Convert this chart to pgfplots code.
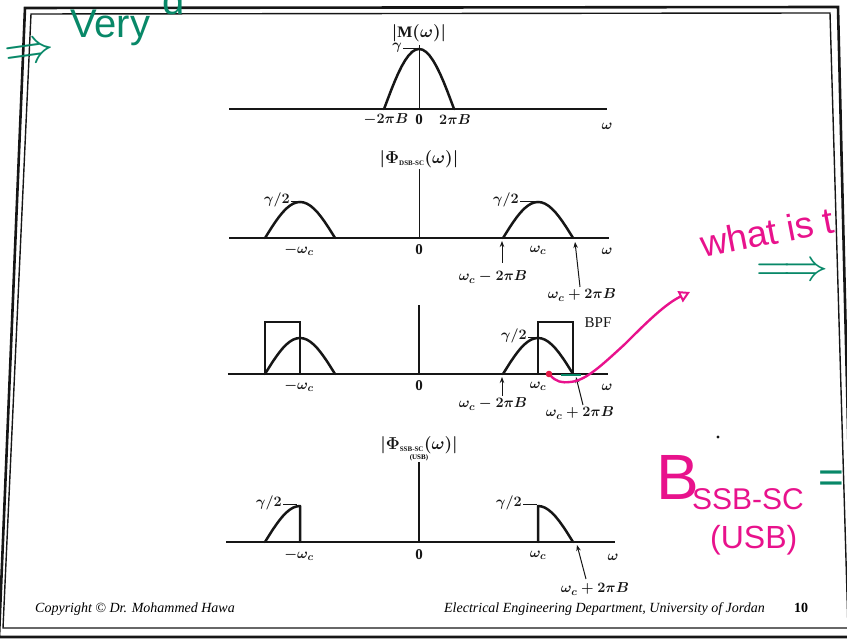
\documentclass[border=0pt]{standalone}
\usepackage{fontspec}
\setmainfont{Liberation Serif}
\newfontfamily\handfont{Liberation Sans}
\usepackage{pgfplots}
\usepackage{pgfplotstable}
\pgfplotsset{compat=1.18}
\usetikzlibrary{arrows.meta}

\definecolor{ink}{RGB}{22,22,22}
\definecolor{pen}{RGB}{232,18,140}
\definecolor{penred}{RGB}{228,26,70}
\definecolor{marker}{RGB}{8,136,104}

% |M(w)|: peak gamma = 1, band edges at -2piB and 2piB (= -1, 1)
\pgfplotstableread{
x y
-1.0 0
-0.9 0.156
-0.8 0.309
-0.7 0.454
-0.6 0.588
-0.5 0.707
-0.4 0.809
-0.3 0.891
-0.2 0.951
-0.1 0.988
0.0 1
0.1 0.988
0.2 0.951
0.3 0.891
0.4 0.809
0.5 0.707
0.6 0.588
0.7 0.454
0.8 0.309
0.9 0.156
1.0 0
}\msgspec

% DSB-SC: two copies of height gamma/2 centred on -wc and wc (wc = 3.4)
\pgfplotstableread{
x y
-4.4 0
-4.3 0.078
-4.2 0.155
-4.1 0.227
-4.0 0.294
-3.9 0.354
-3.8 0.405
-3.7 0.446
-3.6 0.476
-3.5 0.494
-3.4 0.5
-3.3 0.494
-3.2 0.476
-3.1 0.446
-3.0 0.405
-2.9 0.354
-2.8 0.294
-2.7 0.227
-2.6 0.155
-2.5 0.078
-2.4 0
}\dsbneg

\pgfplotstableread{
x y
2.4 0
2.5 0.078
2.6 0.155
2.7 0.227
2.8 0.294
2.9 0.354
3.0 0.405
3.1 0.446
3.2 0.476
3.3 0.494
3.4 0.5
3.5 0.494
3.6 0.476
3.7 0.446
3.8 0.405
3.9 0.354
4.0 0.294
4.1 0.227
4.2 0.155
4.3 0.078
4.4 0
}\dsbpos

% SSB-SC (USB): only the outer halves survive
\pgfplotstableread{
x y
-4.4 0
-4.3 0.078
-4.2 0.155
-4.1 0.227
-4.0 0.294
-3.9 0.354
-3.8 0.405
-3.7 0.446
-3.6 0.476
-3.5 0.494
-3.4 0.5
-3.4 0
}\usbneg

\pgfplotstableread{
x y
3.4 0
3.4 0.5
3.5 0.494
3.6 0.476
3.7 0.446
3.8 0.405
3.9 0.354
4.0 0.294
4.1 0.227
4.2 0.155
4.3 0.078
4.4 0
}\usbpos

% band-pass filter passbands
\pgfplotstableread{
x y
-4.4 0
-4.4 0.72
-3.4 0.72
-3.4 0
}\bpfneg

\pgfplotstableread{
x y
3.4 0
3.4 0.72
4.4 0.72
4.4 0
}\bpfpos

\pgfplotsset{
  spectrum/.style={
    anchor=south west, scale only axis, x=35pt, ymin=0,
    axis lines=middle,
    axis line style={-, line width=1.1pt, ink},
    every inner x axis line/.append style={-},
    every inner y axis line/.append style={-},
    ticks=none, clip=false,
  },
  curve/.style={ink, line width=2.5pt, line join=round, line cap=round, no marks},
  filt/.style={ink, line width=1.6pt, line join=miter, no marks},
}

\tikzset{
  lab/.style={inner sep=0pt, font=\fontsize{15}{15}\selectfont\bfseries\boldmath, text=ink},
  big/.style={inner sep=0pt, font=\fontsize{16}{16}\selectfont\bfseries\boldmath, text=ink},
  tag/.style={ink, line width=1pt},
  pointer/.style={ink, line width=1pt, -{Stealth[length=6pt,width=4.5pt]}},
}

\newcommand{\wc}{\omega_c}

\begin{document}
\begin{tikzpicture}[x=1pt,y=1pt]
\useasboundingbox (0,0) rectangle (847,639);
\clip (0,0) rectangle (847,639);

% slide frame
\draw[ink, line width=2.6pt] (25,631) -- (838,632) -- (853,2) -- (-1,2) -- cycle;
\draw[ink, line width=1.4pt] (31,625) -- (830,626) -- (848,11) -- (3,11) -- cycle;

% ---- |M(w)|  (omega = 0 sits at x = 419pt)
\begin{axis}[spectrum, at={(229pt,530pt)}, y=60pt, xmin=-5.43, xmax=5.37, ymax=1.07]
\addplot[curve] table {\msgspec};
\end{axis}
\node[big] at (419,606) {$\left|\mathrm{M}(\omega)\right|$};
\node[lab, anchor=east] at (402,591) {$\gamma$};
\draw[tag] (403,590) -- (418,590);
\node[lab] at (386,519) {$-2\pi B$};
\node[lab] at (419,519) {0};
\node[lab] at (455,519) {$2\pi B$};
\node[lab] at (607,513) {$\omega$};

% ---- DSB-SC spectrum
\begin{axis}[spectrum, at={(229pt,401pt)}, y=72pt, xmin=-5.43, xmax=5.43, ymax=0.96]
\addplot[curve] table {\dsbneg};
\addplot[curve] table {\dsbpos};
\end{axis}
\node[big] at (419,480) {$\left|\Phi_{\mbox{\fontsize{7}{7}\selectfont\bfseries DSB-SC}}(\omega)\right|$};
\node[lab, anchor=east] at (290,439) {$\gamma/2$};
\draw[tag] (291,437) -- (298,437);
\node[lab, anchor=east] at (519,439) {$\gamma/2$};
\draw[tag] (520,437) -- (536,437);
\node[lab] at (299,389) {$-\wc$};
\node[lab] at (419,389) {0};
\node[lab] at (538,389) {$\wc$};
\node[lab] at (607,388) {$\omega$};
\draw[pointer] (502,376) -- (502,398);
\node[lab] at (493,362) {$\wc - 2\pi B$};
\draw[pointer] (580,352) -- (575,397);
\node[lab] at (582,344) {$\wc + 2\pi B$};

% ---- DSB-SC through the band-pass filter
\begin{axis}[spectrum, at={(227.9pt,265pt)}, y=72pt, xmin=-5.46, xmax=5.4, ymax=0.96]
\addplot[filt] table {\bpfneg};
\addplot[filt] table {\bpfpos};
\addplot[curve] table {\dsbneg};
\addplot[curve] table {\dsbpos};
\end{axis}
\node[lab, font=\fontsize{15}{15}\selectfont] at (598,316) {BPF};
\node[lab, anchor=east] at (527,303) {$\gamma/2$};
\draw[tag] (528,301) -- (537,301);
\node[lab] at (299,253) {$-\wc$};
\node[lab] at (419,253) {0};
\node[lab] at (538,253) {$\wc$};
\node[lab] at (607,252) {$\omega$};
\draw[pointer] (502,243) -- (502,262);
\node[lab] at (493,235) {$\wc - 2\pi B$};
\draw[pointer] (583,234) -- (576,262);
\node[lab] at (580,226) {$\wc + 2\pi B$};

% ---- SSB-SC (USB) spectrum
\begin{axis}[spectrum, at={(226.15pt,97pt)}, y=72pt, xmin=-5.51, xmax=5.6, ymax=1.11]
\addplot[curve] table {\usbneg};
\addplot[curve] table {\usbpos};
\end{axis}
\node[big] at (419,194) {$\left|\Phi_{\mbox{\fontsize{7}{7}\selectfont\bfseries SSB-SC}}(\omega)\right|$};
\node[inner sep=0pt, font=\fontsize{7}{7}\selectfont\bfseries] at (419,181) {(USB)};
\node[lab, anchor=east] at (282,136) {$\gamma/2$};
\draw[tag] (283,134) -- (297,134);
\node[lab, anchor=east] at (522,136) {$\gamma/2$};
\draw[tag] (523,134) -- (537,134);
\node[lab] at (299,84) {$-\wc$};
\node[lab] at (419,84) {0};
\node[lab] at (538,84) {$\wc$};
\node[lab] at (613,82) {$\omega$};
\draw[pointer] (586,60) -- (577,94);
\node[lab] at (595,50) {$\wc + 2\pi B$};

% footer
\node[inner sep=0pt, anchor=base west, font=\itshape\fontsize{14}{14}\selectfont] at (35,26) {Copyright \textcopyright{} Dr. Mohammed Hawa};
\node[inner sep=0pt, anchor=base east, font=\itshape\fontsize{14}{14}\selectfont] at (765,26) {Electrical Engineering Department, University of Jordan};
\node[inner sep=0pt, anchor=base, font=\bfseries\fontsize{14}{14}\selectfont] at (801,26) {10};

% pen notes
\draw[marker, line width=1.6pt] (561,264) -- (581,264);
\draw[pen, line width=2.4pt, -{Triangle[open, length=11pt, width=12pt, line width=2pt]}]
  (550,264) .. controls (556,257) and (562,256) .. (570,257)
  .. controls (585,258) and (600,272) .. (625,295)
  .. controls (645,315) and (665,335) .. (690,347);
\fill[penred] (549,265) circle (3.3);
\node[pen, rotate=11, anchor=base west, inner sep=0pt, font=\handfont\fontsize{37}{37}\selectfont] at (703,381) {what};
\node[pen, rotate=11, anchor=base west, inner sep=0pt, font=\handfont\fontsize{37}{37}\selectfont] at (789.4,397.8) {is t};
\node[marker, scale=4.5, inner sep=0pt] at (792,367) {$\Longrightarrow$};
\fill[ink] (718,202) circle (1.6);
\node[pen, anchor=base west, inner sep=0pt, font=\handfont\fontsize{64}{64}\selectfont] at (656,139) {B};
\node[pen, anchor=base west, inner sep=0pt, font=\handfont\fontsize{30}{30}\selectfont] at (692,129) {SSB-SC};
\node[pen, anchor=base west, inner sep=0pt, font=\handfont\fontsize{32}{32}\selectfont] at (710,90) {(USB)};
\node[marker, anchor=west, inner sep=0pt, font=\handfont\fontsize{44}{44}\selectfont] at (818,157) {=};
\node[marker, scale=5, rotate=8, inner sep=0pt] at (30,585) {$\Rightarrow$};
\node[marker, anchor=base west, inner sep=0pt, font=\handfont\fontsize{40}{40}\selectfont] at (70,601) {Very};
\node[marker, anchor=base west, inner sep=0pt, font=\handfont\fontsize{40}{40}\selectfont] at (162,624) {d};
\end{tikzpicture}
\end{document}
